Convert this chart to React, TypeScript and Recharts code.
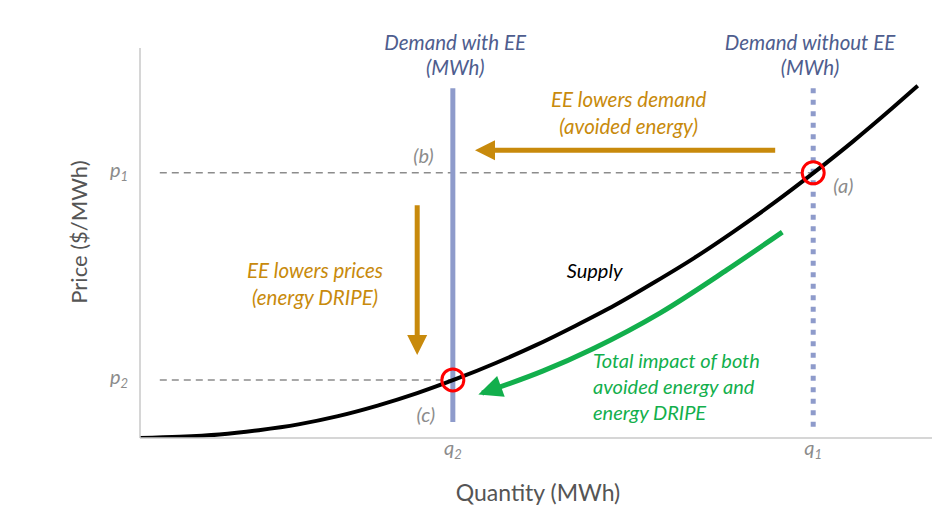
import React from "react";
import {
  ComposedChart,
  Line,
  XAxis,
  YAxis,
  ReferenceLine,
  ReferenceDot,
} from "recharts";

// supply curve (quantity, price in index units 0-100)
const SUPPLY_Q = [0, 5, 10, 15, 20, 25, 30, 35, 40, 45, 50, 55, 60, 65, 70, 75, 80, 85, 90, 95, 98.2];
const SUPPLY_P = [0, 0.3, 0.9, 2.0, 3.5, 5.6, 8.3, 11.5, 15.2, 19.3, 23.8, 28.8, 34.1, 40.0, 46.2, 53.0, 60.2, 67.9, 76.0, 84.6, 90.3];

// green "total impact" arrow path
const IMPACT_Q = [81.1, 74.1, 65.7, 57.2, 50.9, 43.2];
const IMPACT_P = [52.8, 43.1, 32.1, 22.9, 17.2, 11.5];

const Q2 = 39.5;
const Q1 = 85;
const P1 = 68;
const P2 = 14.9;

const X_TICKS = [Q2, Q1];
const X_TICK_SUBS = ["2", "1"];
const Y_TICKS = [P2, P1];
const Y_TICK_SUBS = ["2", "1"];

const supplyData = SUPPLY_Q.map((q, i) => ({ q, p: SUPPLY_P[i] }));
const impactData = IMPACT_Q.map((q, i) => ({ q, p: IMPACT_P[i] }));

const FONT = "Lato, 'Open Sans', sans-serif";
const GOLD = "#C88A0C";
const GREEN = "#12AF4C";
const DEMAND = "#8E9BCB";
const DEMAND_TEXT = "#4E5D8E";
const GRAY = "#8C8C8C";

const arrowShape = (color: string, width: number) => (p: any) => {
  const { x1, y1, x2, y2 } = p;
  const a = Math.atan2(y2 - y1, x2 - x1);
  const L = 20;
  const W = 10;
  const bx = x2 - L * Math.cos(a);
  const by = y2 - L * Math.sin(a);
  const pts = `${x2},${y2} ${bx - W * Math.sin(a)},${by + W * Math.cos(a)} ${bx + W * Math.sin(a)},${by - W * Math.cos(a)}`;
  return (
    <g>
      <line x1={x1} y1={y1} x2={bx} y2={by} stroke={color} strokeWidth={width} />
      <polygon points={pts} fill={color} />
    </g>
  );
};

const note =
  (lines: string[], color: string, size = 20, anchor = "middle", lh = 26) =>
  (p: any) =>
    (
      <text
        x={p.cx}
        y={p.cy}
        fill={color}
        fontSize={size}
        fontStyle="italic"
        textAnchor={anchor as any}
        fontFamily={FONT}
      >
        {lines.map((l, i) => (
          <tspan key={i} x={p.cx} dy={i === 0 ? 0 : lh}>
            {l}
          </tspan>
        ))}
      </text>
    );

const XTick = (props: any) => {
  const { x, y, payload } = props;
  const sub = X_TICK_SUBS[X_TICKS.indexOf(payload.value)];
  return (
    <text x={x} y={y + 9} fill={GRAY} fontSize={20} fontStyle="italic" textAnchor="middle" fontFamily={FONT}>
      q
      <tspan fontSize={13} dy={4}>
        {sub}
      </tspan>
    </text>
  );
};

const YTick = (props: any) => {
  const { x, y, payload } = props;
  const sub = Y_TICK_SUBS[Y_TICKS.indexOf(payload.value)];
  return (
    <text x={x - 4} y={y + 4} fill={GRAY} fontSize={20} fontStyle="italic" textAnchor="end" fontFamily={FONT}>
      p
      <tspan fontSize={13} dy={4}>
        {sub}
      </tspan>
    </text>
  );
};

const ArrowDot = (props: any) => {
  const { index, points, cx, cy } = props;
  if (!points || index !== points.length - 1) return <g key={`d-${index}`} />;
  const prev = points[index - 1];
  const a = Math.atan2(cy - prev.y, cx - prev.x);
  const L = 24;
  const W = 11;
  const tx = cx + 4 * Math.cos(a);
  const ty = cy + 4 * Math.sin(a);
  const bx = tx - L * Math.cos(a);
  const by = ty - L * Math.sin(a);
  const pts = `${tx},${ty} ${bx - W * Math.sin(a)},${by + W * Math.cos(a)} ${bx + W * Math.sin(a)},${by - W * Math.cos(a)}`;
  return <polygon key={`d-${index}`} points={pts} fill={GREEN} />;
};

export default function App() {
  return (
    <div style={{ position: "absolute", left: 0, top: 0, background: "#fff" }}>
      <ComposedChart
        width={932}
        height={526}
        margin={{ top: 48, right: 0, bottom: 0, left: 0 }}
      >
        <XAxis
          type="number"
          dataKey="q"
          domain={[0, 100]}
          ticks={X_TICKS}
          tick={<XTick />}
          tickLine={false}
          axisLine={{ stroke: "#c8c8c8", strokeWidth: 1.5 }}
          height={88}
          allowDataOverflow
          label={{
            content: (lp: any) => {
              const vb = lp.viewBox;
              return (
                <text x={vb.x + vb.width / 2 + 2} y={vb.y + 63} fill="#555" fontSize={23} textAnchor="middle" fontFamily={FONT}>
                  Quantity (MWh)
                </text>
              );
            },
          }}
        />
        <YAxis
          type="number"
          dataKey="p"
          domain={[0, 100]}
          ticks={Y_TICKS}
          tick={<YTick />}
          tickLine={false}
          axisLine={{ stroke: "#c8c8c8", strokeWidth: 1.5 }}
          width={140}
          allowDataOverflow
          label={{
            content: (lp: any) => {
              const vb = lp.viewBox;
              const cx = vb.x + 87;
              const cy = vb.y + vb.height / 2 - 11;
              return (
                <text x={cx} y={cy} fill="#555" fontSize={22} textAnchor="middle" fontFamily={FONT} transform={`rotate(-90 ${cx} ${cy})`}>
                  Price ($/MWh)
                </text>
              );
            },
          }}
        />

        {/* price guides */}
        <ReferenceLine segment={[{ x: 2.5, y: P1 }, { x: Q1, y: P1 }]} stroke="#8c8c8c" strokeWidth={1.5} strokeDasharray="7 5" />
        <ReferenceLine segment={[{ x: 2.5, y: P2 }, { x: Q2, y: P2 }]} stroke="#8c8c8c" strokeWidth={1.5} strokeDasharray="7 5" />

        {/* demand lines */}
        <ReferenceLine segment={[{ x: Q2, y: 89.7 }, { x: Q2, y: 4.1 }]} stroke={DEMAND} strokeWidth={5} />
        <ReferenceLine segment={[{ x: Q1, y: 89.7 }, { x: Q1, y: 2 }]} stroke={DEMAND} strokeWidth={5} strokeDasharray="5 6.5" />

        {/* gold arrows */}
        <ReferenceLine segment={[{ x: 80.2, y: 73.8 }, { x: 42.3, y: 73.8 }]} shape={arrowShape(GOLD, 5)} />
        <ReferenceLine segment={[{ x: 35, y: 59.7 }, { x: 35, y: 21.3 }]} shape={arrowShape(GOLD, 5)} />

        <Line data={supplyData} dataKey="p" type="monotone" stroke="#000" strokeWidth={4} dot={false} activeDot={false} isAnimationActive={false} />
        <Line data={impactData} dataKey="p" type="monotone" stroke={GREEN} strokeWidth={5} dot={ArrowDot} activeDot={false} isAnimationActive={false} />

        <ReferenceDot x={Q2} y={P2} r={11} fill="none" stroke="#FF0000" strokeWidth={3} />
        <ReferenceDot x={Q1} y={P1} r={11} fill="none" stroke="#FF0000" strokeWidth={3} />

        {/* annotations */}
        <ReferenceDot x={39.8} y={99.5} r={0} ifOverflow="visible" shape={note(["Demand with EE", "(MWh)"], DEMAND_TEXT, 20.5, "middle", 25)} />
        <ReferenceDot x={84.6} y={99.5} r={0} ifOverflow="visible" shape={note(["Demand without EE", "(MWh)"], DEMAND_TEXT, 20.5, "middle", 25)} />
        <ReferenceDot x={61.7} y={84.9} r={0} ifOverflow="visible" shape={note(["EE lowers demand", "(avoided energy)"], GOLD, 20.5, "middle", 27)} />
        <ReferenceDot x={22.1} y={41} r={0} ifOverflow="visible" shape={note(["EE lowers prices", "(energy DRIPE)"], GOLD, 20.5, "middle", 27)} />
        <ReferenceDot x={57.4} y={41} r={0} ifOverflow="visible" shape={note(["Supply"], "#000", 20)} />
        <ReferenceDot x={57.2} y={17.9} r={0} ifOverflow="visible" shape={note(["Total impact of both", "avoided energy and", "energy DRIPE"], GREEN, 20, "start", 26)} />
        <ReferenceDot x={88.8} y={62.8} r={0} ifOverflow="visible" shape={note(["(a)"], GRAY, 20)} />
        <ReferenceDot x={35.8} y={70.5} r={0} ifOverflow="visible" shape={note(["(b)"], GRAY, 20)} />
        <ReferenceDot x={36.1} y={4.1} r={0} ifOverflow="visible" shape={note(["(c)"], GRAY, 20)} />
      </ComposedChart>
    </div>
  );
}
